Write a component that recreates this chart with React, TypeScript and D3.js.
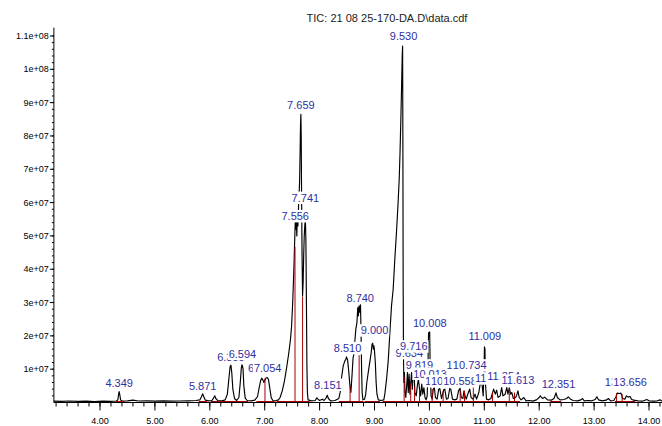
import React from "react";
import * as d3 from "d3";

const title = "TIC: 21 08 25-170-DA.D\\data.cdf";

// retention time (min), abundance (x 1e6)
const tic: [number, number][] = [
  [3.16, 0.4], [3.3, 0.35], [3.45, 0.45], [3.6, 0.35], [3.75, 0.4], [3.9, 0.3], [4.05, 0.4], [4.2, 0.35], [4.3, 0.45],
  [4.325, 0.8], [4.34, 2.6], [4.349, 3.3], [4.36, 2.4], [4.375, 0.8], [4.4, 0.45],
  [4.5, 0.5], [4.6, 0.7], [4.7, 0.45], [4.85, 0.5], [5.0, 0.4], [5.15, 0.5], [5.3, 0.4], [5.45, 0.45], [5.6, 0.5], [5.75, 0.6], [5.82, 0.8],
  [5.85, 1.8], [5.871, 2.6], [5.89, 1.7], [5.92, 0.7], [5.98, 0.5], [6.04, 0.6], [6.07, 1.4], [6.09, 2.0], [6.11, 1.2], [6.15, 0.5], [6.22, 0.5], [6.28, 0.8],
  [6.32, 2.5], [6.35, 7.5], [6.37, 10.8], [6.385, 11.2], [6.4, 9.0], [6.42, 4.0], [6.45, 1.2], [6.49, 0.6],
  [6.53, 1.5], [6.555, 6], [6.575, 10.5], [6.585, 11.3], [6.594, 11.0], [6.605, 10.2], [6.62, 5.0], [6.645, 1.3], [6.68, 0.6], [6.75, 0.5], [6.82, 0.7], [6.87, 1.8],
  [6.9, 4.5], [6.925, 6.5], [6.946, 7.3], [6.965, 6.8], [6.985, 6.0], [7.0, 6.6], [7.02, 7.3], [7.048, 7.5], [7.07, 6.8], [7.095, 4.0], [7.12, 1.4], [7.15, 0.6], [7.2, 0.5], [7.25, 0.8],
  [7.28, 1.5], [7.32, 3.5], [7.36, 6.5], [7.4, 10.5], [7.44, 15], [7.47, 19], [7.49, 23], [7.51, 30], [7.525, 37], [7.535, 42], [7.545, 48], [7.556, 54],
  [7.565, 52], [7.575, 55], [7.585, 50], [7.595, 56], [7.605, 53], [7.615, 58], [7.625, 62], [7.635, 66], [7.645, 75], [7.652, 83], [7.659, 86.5],
  [7.665, 80], [7.672, 62], [7.68, 45], [7.69, 32], [7.7, 36], [7.71, 44], [7.72, 50], [7.73, 53], [7.741, 55], [7.75, 49], [7.76, 30], [7.768, 12], [7.778, 3], [7.79, 0.8],
  [7.85, 0.5], [7.92, 0.6], [7.95, 1.4], [7.97, 1.0], [8.0, 0.6], [8.05, 1.0], [8.08, 0.6], [8.12, 1.4], [8.14, 2.2], [8.16, 1.2], [8.2, 0.5], [8.28, 0.6], [8.35, 1.2],
  [8.38, 3.5], [8.4, 7.5], [8.43, 11], [8.46, 12.5], [8.48, 13.0], [8.49, 13.7], [8.51, 12.8], [8.53, 9.5], [8.55, 5.5], [8.57, 3.0], [8.59, 8.0], [8.61, 13.5],
  [8.625, 14.5], [8.64, 18], [8.66, 22], [8.68, 24], [8.695, 28.5], [8.705, 26], [8.72, 29], [8.735, 27], [8.745, 29.5], [8.755, 21], [8.765, 10], [8.775, 3], [8.79, 0.8], [8.82, 1.0],
  [8.84, 2.5], [8.86, 6], [8.89, 9.5], [8.92, 12.7], [8.94, 15], [8.955, 17.5], [8.967, 17.8], [8.98, 16], [8.99, 17], [9.0, 15.5], [9.015, 12], [9.03, 6], [9.045, 2.5], [9.07, 0.8], [9.12, 0.6], [9.17, 0.8],
  [9.19, 2.8], [9.22, 7], [9.25, 12.5], [9.28, 21], [9.31, 29], [9.34, 34], [9.37, 43], [9.4, 51], [9.43, 60], [9.45, 67], [9.465, 75], [9.48, 85], [9.495, 96], [9.505, 104], [9.512, 107],
  [9.518, 70], [9.522, 35], [9.528, 15], [9.535, 6], [9.545, 9], [9.555, 3],
  [9.57, 1.5], [9.59, 6], [9.6, 9], [9.615, 3], [9.63, 8.5], [9.645, 2.5], [9.66, 6], [9.675, 9], [9.69, 4], [9.705, 9.5], [9.72, 10], [9.735, 3], [9.76, 2], [9.78, 5], [9.8, 7],
  [9.82, 4], [9.84, 2], [9.86, 5.5], [9.88, 2.5], [9.9, 4.5], [9.92, 1.5], [9.94, 0.8], [9.96, 2], [9.975, 12], [9.985, 21], [9.995, 20], [10.005, 21.2], [10.015, 10], [10.03, 2],
  [10.05, 1], [10.07, 4], [10.09, 4.5], [10.11, 1.5], [10.14, 1], [10.17, 4], [10.19, 4.2], [10.22, 1.2], [10.26, 3.8], [10.28, 4], [10.31, 1], [10.34, 1.2], [10.37, 4.2], [10.39, 4],
  [10.42, 1], [10.46, 0.8], [10.5, 1], [10.53, 3.5], [10.558, 4.3], [10.58, 1.5], [10.61, 1.2], [10.63, 3.5], [10.65, 2], [10.67, 1], [10.71, 3], [10.734, 4], [10.76, 1.5], [10.8, 1],
  [10.83, 2.5], [10.86, 1], [10.9, 3], [10.94, 7], [10.96, 5.2], [10.98, 2], [10.995, 10], [11.003, 16.7], [11.012, 16], [11.02, 6], [11.04, 1], [11.08, 0.8], [11.12, 1.2],
  [11.17, 4], [11.2, 2.5], [11.225, 3.7], [11.25, 1.5], [11.29, 2], [11.316, 4.5], [11.34, 2], [11.38, 2.5], [11.41, 4.5], [11.43, 2.5], [11.455, 4.4], [11.48, 2.5], [11.5, 3],
  [11.53, 1.2], [11.57, 1.5], [11.59, 2.2], [11.613, 3.5], [11.635, 1.5], [11.67, 0.8], [11.72, 1.5], [11.76, 0.5],
  [11.82, 0.6], [11.88, 0.4], [11.95, 0.8], [12.0, 1.5], [12.02, 2.0], [12.06, 1.2], [12.1, 1.6], [12.15, 0.8], [12.22, 0.7], [12.27, 1.2], [12.306, 2.9], [12.33, 1.5], [12.38, 0.8],
  [12.45, 0.9], [12.5, 1.2], [12.53, 1.7], [12.57, 1.0], [12.62, 0.6], [12.7, 0.5], [12.76, 0.8], [12.79, 1.2], [12.82, 0.5], [12.9, 0.6], [12.96, 0.5], [13.02, 0.9], [13.05, 1.7],
  [13.08, 0.8], [13.15, 0.5], [13.22, 0.7], [13.26, 1.2], [13.3, 0.5], [13.36, 0.6], [13.4, 1.8], [13.42, 2.8], [13.46, 2.7], [13.49, 2.8], [13.52, 1.2], [13.56, 1.0], [13.59, 2.0],
  [13.62, 1.6], [13.656, 1.8], [13.68, 1.0], [13.72, 0.7], [13.8, 0.5], [13.88, 0.4], [13.96, 0.9], [14.0, 0.5], [14.08, 0.4], [14.15, 0.5], [14.2, 0.8], [14.24, 0.4],
];

// peak labels, in drawing order (later boxes cover earlier text)
const peakLabels = [
  "4.349", "5.871", "6.385", "6.594", "6.946", "7.054", "7.556", "7.659", "7.741", "8.151", "8.510", "8.740", "9.000", "9.530",
  "9.634", "9.716", "10.008", "9.819", "10.013", "10.225", "10.335", "10.558", "10.616", "10.734", "11.009", "11.131", "11.354",
  "11.613", "12.351", "13.502", "13.656",
];
const peakTimes = [
  4.349, 5.871, 6.385, 6.594, 6.946, 7.054, 7.556, 7.659, 7.741, 8.151, 8.51, 8.74, 9.0, 9.53,
  9.634, 9.716, 10.008, 9.819, 10.013, 10.225, 10.335, 10.558, 10.616, 10.734, 11.009, 11.131, 11.354,
  11.613, 12.351, 13.502, 13.656,
];
// abundance at which each label's baseline sits (x 1e6)
const labelLevels = [
  4.65, 3.75, 12.5, 13.5, 9.05, 9.15, 54.8, 88.0, 60.3, 4.2, 15.2, 30.2, 20.5, 108.7,
  13.7, 15.7, 22.7, 10.0, 7.5, 5.3, 5.3, 5.3, 10.0, 10.0, 18.7, 6.1, 6.7,
  5.45, 4.45, 4.95, 5.0,
];

// integration drop lines (time, height x 1e6)
const dropTimes = [7.005, 7.552, 7.69, 8.555, 8.72, 9.54, 9.66, 9.73, 9.82, 10.05, 10.25, 10.56, 10.64, 10.8, 11.15, 11.455, 11.55, 13.41, 13.51];
const dropHeights = [7.25, 46.7, 31.7, 5.0, 14.2, 7.7, 5.8, 4.7, 3.5, 4.0, 3.5, 3.7, 3.5, 4.5, 3.0, 4.2, 3.0, 2.8, 2.5];

// integration baselines (start, end)
const baselineRuns: [number, number][] = [
  [4.28, 4.45], [5.8, 5.95], [6.02, 6.7], [6.85, 7.18], [7.22, 7.82], [8.35, 8.8], [8.82, 9.1], [9.15, 11.65], [12.2, 12.4], [13.38, 13.75],
];

const yTickValues = [10, 20, 30, 40, 50, 60, 70, 80, 90, 100, 110];
const yTickLabels = ["1e+07", "2e+07", "3e+07", "4e+07", "5e+07", "6e+07", "7e+07", "8e+07", "9e+07", "1e+08", "1.1e+08"];

const FONT = "Arial, 'Liberation Sans', sans-serif";
const LABEL_BLUE = "#2f2f9f";
const DROP_RED = "#a80000";

const textWidth = (s: string, size: number) =>
  s.split("").reduce((w, c) => w + (c === "." ? 0.278 : 0.556), 0) * size;

export default function App() {
  const W = 662;
  const H = 426;
  const x = d3.scaleLinear().domain([4, 14]).range([100, 649]);
  const y = d3.scaleLinear().domain([0, 110]).range([402.5, 36]);

  const xStart = tic[0][0];
  const yTop = 112.5;
  const base = 0.3;

  const line = d3
    .line<[number, number]>()
    .x((d) => x(d[0]))
    .y((d) => y(d[1]));

  const majorX = x.ticks(10);
  const minorX = d3.range(3.2, 14.25, 0.2);
  const minorY = d3.range(2, 112, 2);

  return (
    <svg width={W} height={H} style={{ position: "absolute", left: 0, top: 0, background: "#fff" }} fontFamily={FONT}>
      <text x={387} y={22} fontSize={11} textAnchor="middle" fill="#222">
        {title}
      </text>

      {/* y axis */}
      <line x1={x(xStart)} x2={x(xStart)} y1={y(0)} y2={y(yTop)} stroke="#000" />
      {minorY.map((v) => (
        <line key={"my" + v} x1={x(xStart) - 2} x2={x(xStart)} y1={y(v)} y2={y(v)} stroke="#000" />
      ))}
      {yTickValues.map((v, i) => (
        <g key={"y" + v}>
          <line x1={x(xStart) - 4} x2={x(xStart)} y1={y(v)} y2={y(v)} stroke="#000" />
          <text x={x(xStart) - 5} y={y(v) + 3} fontSize={9} textAnchor="end" fill="#000">
            {yTickLabels[i]}
          </text>
        </g>
      ))}

      {/* x axis */}
      <line x1={x(xStart)} x2={W} y1={y(0)} y2={y(0)} stroke="#000" />
      {minorX.map((t) => (
        <line key={"mx" + t} x1={x(t)} x2={x(t)} y1={y(0)} y2={y(0) + 4} stroke="#000" />
      ))}
      {majorX.map((t) => (
        <g key={"x" + t}>
          <line x1={x(t)} x2={x(t)} y1={y(0)} y2={y(0) + 8} stroke="#000" />
          <text x={x(t)} y={y(0) + 21} fontSize={9} textAnchor="middle" fill="#000">
            {d3.format(".2f")(t)}
          </text>
        </g>
      ))}

      {/* chromatogram */}
      <path d={line(tic) || ""} fill="none" stroke="#000" strokeWidth={1.15} strokeLinejoin="round" />

      {/* integration marks */}
      {baselineRuns.map(([a, b], i) => (
        <line key={"b" + i} x1={x(a)} x2={x(b)} y1={y(base)} y2={y(base)} stroke={DROP_RED} strokeWidth={1} />
      ))}
      {dropTimes.map((t, i) => (
        <line key={"d" + i} x1={x(t)} x2={x(t)} y1={y(base)} y2={y(dropHeights[i])} stroke={DROP_RED} strokeWidth={1} />
      ))}

      {/* peak labels */}
      {peakLabels.map((s, i) => {
        const cx = x(peakTimes[i]);
        const by = y(labelLevels[i]);
        const w = textWidth(s, 11);
        return (
          <g key={"l" + i}>
            <rect x={cx - w / 2 - 1} y={by - 10} width={w + 2} height={12.5} fill="#fff" />
            <text x={cx} y={by} fontSize={11} textAnchor="middle" fill={LABEL_BLUE}>
              {s}
            </text>
          </g>
        );
      })}
    </svg>
  );
}
